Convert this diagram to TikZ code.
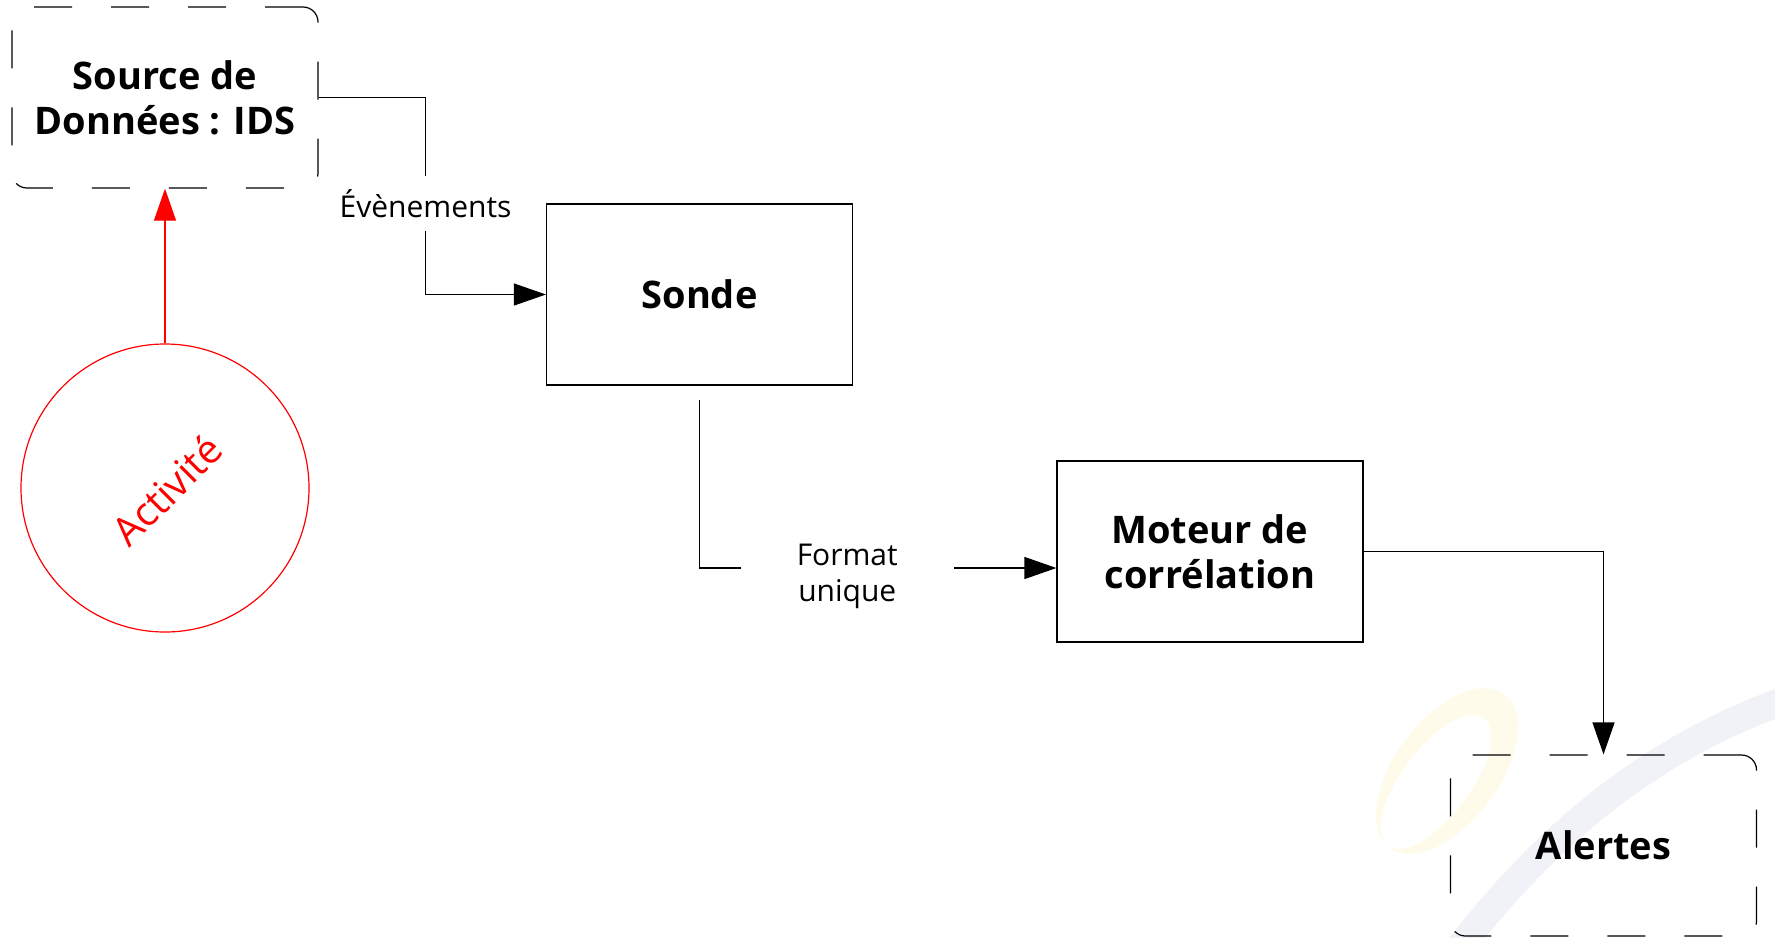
\documentclass[tikz,border=0pt]{standalone}
\usepackage{fontspec}
\setmainfont{Open Sans}
\usetikzlibrary{arrows.meta}
\definecolor{ylw}{HTML}{FFFBEB}
\definecolor{wmgray}{HTML}{F1F2F7}
\begin{document}
\begin{tikzpicture}[x=0.5pt,y=-0.5pt,
  box/.style={draw, line width=0.6pt, minimum width=153pt, minimum height=90.5pt,
    inner sep=0pt, align=center, font=\bfseries\fontsize{19}{22.5}\selectfont},
  dbox/.style={box, rounded corners=7.5pt, dash pattern=on 19pt off 19.5pt},
  conn/.style={line width=0.6pt, -{Triangle[length=16pt,width=11pt]}},
  lab/.style={fill=white, font=\fontsize{15}{18}\selectfont, align=center, inner sep=0pt},
]
\useasboundingbox (0,0) rectangle (1775,937);
% watermark
\begin{scope}
  \clip (0,0) rectangle (1775,937);
  \fill[ylw, even odd rule]
    (1447,771) ellipse [x radius=48pt, y radius=26pt, rotate=53]
    (1436,782) ellipse [x radius=40pt, y radius=17pt, rotate=53];
  \draw[wmgray, line width=14pt]
    (1450,960) .. controls (1540,840) and (1650,745) .. (1800,695);
\end{scope}
% nodes
\node[dbox] (src) at (165,97.5) {Source de\\Données : IDS};
\node[box] (sonde) at (699.5,294.5) {Sonde};
\node[box] (moteur) at (1210,551.5) {Moteur de\\corrélation};
\node[dbox] (alertes) at (1603.5,845.5) {Alertes};
\node[circle, draw=red, line width=0.6pt, minimum size=144pt, inner sep=0pt] (act) at (165,488) {};
\node[rotate=45, text=red, font=\fontsize{20}{22}\selectfont] (actlab) at (167,490) {Activité};
% connectors
\draw[conn] (src.east) -- ++(107,0) coordinate (e1)
  |- node[lab, pos=0.27, minimum height=27.5pt] {Évènements} (sonde.west);
\coordinate (s0) at ([yshift=-7pt]sonde.south);
\draw[conn] (s0) |- node[lab, pos=0.707, minimum width=106.5pt, minimum height=40pt, text depth=0pt, yshift=-2.5pt] {Format\\unique} ([yshift=-8.25pt]moteur.west);
\draw[conn] (moteur.east) -| (alertes.north);
\draw[conn, red] (act.north) -- (src.south);
\end{tikzpicture}
\end{document}
